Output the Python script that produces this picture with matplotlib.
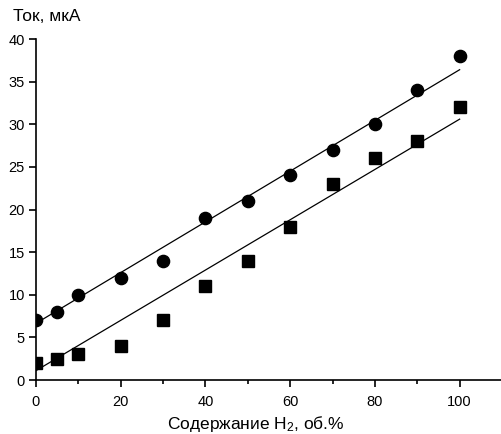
import matplotlib
matplotlib.use("Agg")
import matplotlib.pyplot as plt
import numpy as np

plt.rcParams['font.family'] = ['Liberation Sans', 'DejaVu Sans']
plt.rcParams['mathtext.fontset'] = 'custom'
plt.rcParams['mathtext.rm'] = 'Liberation Sans'
plt.rcParams['mathtext.it'] = 'Liberation Sans'

# содержание H2, об.%
h2 = [0, 5, 10, 20, 30, 40, 50, 60, 70, 80, 90, 100]
# ток, мкА
current_circles = [7, 8, 10, 12, 14, 19, 21, 24, 27, 30, 34, 38]
current_squares = [2, 2.5, 3, 4, 7, 11, 14, 18, 23, 26, 28, 32]

# linear fits as drawn in the original (intercept, slope)
fit_circles = (6.65, 0.2975)
fit_squares = (1.1, 0.295)
fit_range = [0, 100]

xticks = [0, 20, 40, 60, 80, 100]
yticks = [0, 5, 10, 15, 20, 25, 30, 35, 40]

fig = plt.figure(figsize=(5.02, 4.34), dpi=100)
ax = fig.add_axes([0.0717, 0.1244, 0.9283, 0.7857])

xx = np.array(fit_range)
for y, fit, m, ms in [(current_circles, fit_circles, 'o', 8.8),
                      (current_squares, fit_squares, 's', 8)]:
    ax.plot(h2, y, linestyle='none', marker=m, markersize=ms, color='black', zorder=3)
    b, k = fit
    ax.plot(xx, b + k * xx, color='black', lw=0.9)

ax.set_xlim(0, 110)
ax.set_ylim(0, 40)
ax.set_xticks(xticks)
ax.set_xticks([10, 30, 50, 70, 90, 110], minor=True)
ax.set_yticks(yticks)
for s in ['top', 'right']:
    ax.spines[s].set_visible(False)
for s in ['left', 'bottom']:
    ax.spines[s].set_linewidth(1.2)
    ax.spines[s].set_clip_on(False)
ax.tick_params(which='major', length=5, width=1.2, labelsize=10.5, pad=3)
ax.tick_params(axis='x', which='major', pad=6)
ax.tick_params(which='minor', length=3, width=1.2)

ax.set_xlabel('Содержание H$_{2}$, об.%', fontsize=12.5, labelpad=1)
ax.xaxis.set_label_coords(0.472, -0.10)
fig.text(0.026, 0.962, 'Ток, мкА', fontsize=12.5, ha='left', va='center')

fig.savefig('out.png', dpi=100)
